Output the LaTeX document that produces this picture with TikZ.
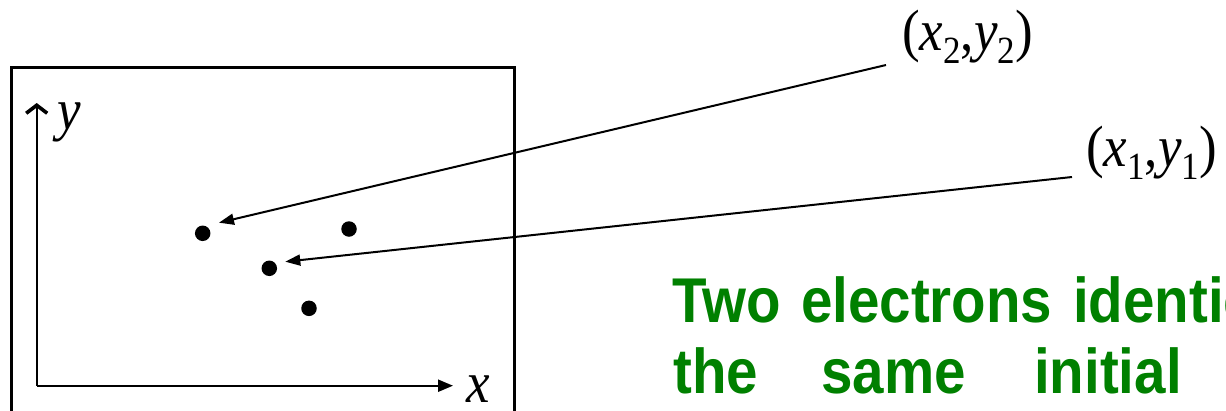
\documentclass[tikz,border=0pt]{standalone}
\usepackage{fontspec}
\setmainfont{Liberation Serif}
\newfontfamily\greenfont{Liberation Sans}
\usetikzlibrary{arrows.meta}
\definecolor{txtgreen}{RGB}{0,128,0}
\newcommand\lowsub[1]{\raisebox{-0.24em}{\fontsize{35}{35}\selectfont #1}}
\newcommand\pointlab[1]{(\textit{x}\lowsub{#1},\textit{y}\lowsub{#1})}
\begin{document}
\begin{tikzpicture}[x=1pt,y=-1pt,
  dot/.style={circle,fill=black,inner sep=0pt,minimum size=15.5pt},
  mathlab/.style={inner sep=0pt,anchor=base west,font=\fontsize{53}{53}\selectfont,yscale=1.1},
  word/.style={inner sep=0pt,anchor=base west,text=txtgreen,font=\greenfont\bfseries\fontsize{56.5}{56.5}\selectfont,yscale=1.12},
  pointer/.style={line width=2pt,-{Triangle[length=15pt,width=11pt]}},
  axis/.style={line width=2.2pt}]
\useasboundingbox (0,0) rectangle (1226,410);
\clip (0,0) rectangle (1226,410);
% frame
\draw[line width=3pt] (11,413) rectangle (514.3,67.5);
% axes
\coordinate (o) at (36.7,385.7);
\coordinate (ytop) at (36.7,103);
\coordinate (xend) at (453,385.7);
\draw[axis,-{Straight Barb[length=8pt,width=21pt,line width=3.6pt]}] (o) -- (ytop);
\draw[axis,-{Triangle[length=15pt,width=12pt]}] (o) -- (xend);
\node[mathlab] (ylab) at (57,129) {\textit{y}};
\node[mathlab] (xlab) at (466,402) {\textit{x}};
% dots
\node[dot] (d1) at (202.7,233.3) {};
\node[dot] (d2) at (349,229) {};
\node[dot] (d3) at (269.3,268.3) {};
\node[dot] (d4) at (309,308.3) {};
% labels
\node[mathlab] (l2) at (902,50) {\pointlab{2}};
\node[mathlab] (l1) at (1086,166) {\pointlab{1}};
\coordinate (t1) at (219,222.7);
\coordinate (t2) at (285.3,261.7);
\draw[pointer] ([xshift=-16pt,yshift=-15pt]l2.base west) -- (t1);
\draw[pointer] ([xshift=-14pt,yshift=-11pt]l1.base west) -- (t2);
% green text
\node[word] (w1) at (672,322) {Two};
\node[word] (w2) at (801,322) {electrons};
\node[word] (w3) at (1073,322) {identic};
\node[word] (w4) at (673,393) {the};
\node[word] (w5) at (821,393) {same};
\node[word] (w6) at (1034,393) {initial};
\end{tikzpicture}
\end{document}
